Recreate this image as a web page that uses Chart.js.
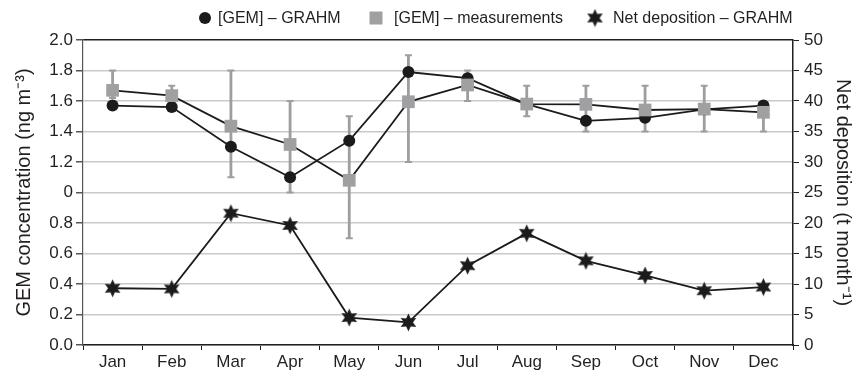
<!DOCTYPE html>
<html>
<head>
<meta charset="utf-8">
<script src="https://cdn.jsdelivr.net/npm/chart.js@4/dist/chart.umd.min.js"></script>
<style>
html,body{margin:0;padding:0;background:#fff;}
#wrap{width:861px;height:373px;}
</style>
</head>
<body>
<div id="wrap"><canvas id="c" width="861" height="373"></canvas></div>
<script>
// ---- data ----
const months = ['Jan','Feb','Mar','Apr','May','Jun','Jul','Aug','Sep','Oct','Nov','Dec'];
const gemGrahm = [1.57, 1.56, 1.30, 1.10, 1.34, 1.79, 1.75, 1.58, 1.47, 1.49, 1.545, 1.57];
const gemMeas = [1.67, 1.635, 1.435, 1.315, 1.08, 1.595, 1.705, 1.58, 1.578, 1.541, 1.547, 1.526];
const gemMeasHigh = [1.80, 1.70, 1.80, 1.60, 1.50, 1.90, 1.80, 1.70, 1.70, 1.70, 1.70, 1.58];
const gemMeasLow = [1.62, 1.60, 1.10, 1.00, 0.70, 1.20, 1.60, 1.50, 1.40, 1.40, 1.40, 1.40];
const netDep = [9.3, 9.2, 21.6, 19.6, 4.5, 3.7, 13.0, 18.3, 13.8, 11.4, 8.9, 9.5];
const leftTickLabels = ['0.0','0.2','0.4','0.6','0.8','0','1.2','1.4','1.6','1.8','2.0'];
const rightTickLabels = ['0','5','10','15','20','25','30','35','40','45','50'];
const legendLabels = ['[GEM] \u2013 GRAHM', '[GEM] \u2013 measurements', 'Net deposition \u2013 GRAHM'];

const FONT = "'Liberation Sans', Arial, Helvetica, sans-serif";
const TXT = '#231f20';

function starPath(ctx, cx, cy, ro, ri, n){
  ctx.beginPath();
  for(let k=0;k<2*n;k++){
    const r = k%2===0 ? ro : ri;
    const a = -Math.PI/2 + k*Math.PI/n;
    const px = cx + r*Math.cos(a), py = cy + r*Math.sin(a);
    if(k===0) ctx.moveTo(px,py); else ctx.lineTo(px,py);
  }
  ctx.closePath();
}
function makeStar(size){
  const cv = document.createElement('canvas');
  cv.width = size; cv.height = size;
  const g = cv.getContext('2d');
  g.fillStyle = '#1d1a1b';
  starPath(g, size/2, size/2, size/2-0.5, size/4.2, 6);
  g.fill();
  return cv;
}
const starImg = makeStar(19);

const errorBars = {
  id:'errorBars',
  beforeDatasetsDraw(chart){
    const {ctx, scales:{x, y}} = chart;
    ctx.save();
    ctx.strokeStyle = '#9e9ea0';
    gemMeasLow.forEach((lo,i)=>{
      const px = x.getPixelForValue(i);
      const yl = y.getPixelForValue(lo), yh = y.getPixelForValue(gemMeasHigh[i]);
      ctx.lineWidth = 2.8;
      ctx.beginPath();
      ctx.moveTo(px, yl); ctx.lineTo(px, yh);
      ctx.stroke();
      ctx.lineWidth = 2.2;
      ctx.beginPath();
      ctx.moveTo(px-3.5, yl); ctx.lineTo(px+3.5, yl);
      ctx.moveTo(px-3.5, yh); ctx.lineTo(px+3.5, yh);
      ctx.stroke();
    });
    ctx.restore();
  }
};

const customLegend = {
  id:'customLegend',
  afterDraw(chart){
    const ctx = chart.ctx;
    const cy = 18;
    const markerX = [205, 376, 595];
    const textX = [218, 394, 613];
    ctx.save();
    ctx.fillStyle = '#1d1a1b';
    ctx.beginPath(); ctx.arc(markerX[0], cy, 6, 0, Math.PI*2); ctx.fill();
    ctx.fillStyle = '#a0a0a2';
    ctx.fillRect(markerX[1]-6.5, cy-6.5, 13, 13);
    ctx.drawImage(starImg, markerX[2]-9.5, cy-9.5);
    ctx.fillStyle = TXT;
    ctx.font = '16px ' + FONT;
    ctx.textBaseline = 'middle';
    ctx.textAlign = 'left';
    legendLabels.forEach((t,i)=> ctx.fillText(t, textX[i], cy+1));
    ctx.restore();
  }
};

new Chart(document.getElementById('c'), {
  type:'line',
  data:{
    labels: months,
    datasets:[
      {label: legendLabels[1], data: gemMeas, yAxisID:'y', order:1,
       borderColor:'#1d1a1b', borderWidth:1.8, pointStyle:'rect', pointRadius:9,
       pointBackgroundColor:'#a0a0a2', pointBorderColor:'#a0a0a2', pointBorderWidth:0, tension:0},
      {label: legendLabels[0], data: gemGrahm, yAxisID:'y', order:2,
       borderColor:'#1d1a1b', borderWidth:1.8, pointStyle:'circle', pointRadius:6,
       pointBackgroundColor:'#1d1a1b', pointBorderColor:'#1d1a1b', pointBorderWidth:0, tension:0},
      {label: legendLabels[2], data: netDep, yAxisID:'y2', order:3,
       borderColor:'#1d1a1b', borderWidth:1.8, pointStyle: starImg, pointRadius:9,
       tension:0}
    ]
  },
  options:{
    responsive:false,
    animation:false,
    devicePixelRatio:1,
    layout:{padding:{top:40, left:0, right:0, bottom:0}},
    plugins:{legend:{display:false}, tooltip:{enabled:false}},
    scales:{
      x:{
        type:'category',
        offset:true,
        grid:{offset:true, drawOnChartArea:false, tickLength:5, color:'#231f20', lineWidth:1},
        border:{color:'#231f20', width:1.5},
        ticks:{color:TXT, font:{family:FONT, size:17}, padding:2, maxRotation:0},
        afterFit(s){ s.height = 28; }
      },
      y:{
        position:'left', min:0, max:2,
        ticks:{stepSize:0.2, color:TXT, font:{family:FONT, size:17}, padding:3,
               callback:(v,i)=>leftTickLabels[i]},
        grid:{color:(c)=> (c.tick && Math.abs(c.tick.value-2)<1e-6) ? '#231f20' : '#c9c9c9',
              lineWidth:1.5,
              tickColor:'#555', tickLength:7},
        border:{color:'#555', width:1.2},
        title:{display:true, text:'GEM concentration (ng m\u207B\u00B3)', color:TXT,
               font:{family:FONT, size:20}, padding:{top:12, bottom:0}},
        afterFit(s){ s.width = 83; }
      },
      y2:{
        position:'right', min:0, max:50,
        ticks:{stepSize:5, color:TXT, font:{family:FONT, size:17}, padding:5,
               callback:(v,i)=>rightTickLabels[i]},
        grid:{drawOnChartArea:false, tickLength:6, color:'#231f20'},
        border:{color:'#231f20', width:1.5},
        title:{display:true, text:'Net deposition (t month\u207B\u00B9)', color:TXT,
               font:{family:FONT, size:20}, padding:{top:6, bottom:0}},
        afterFit(s){ s.width = 68; }
      }
    }
  },
  plugins:[errorBars, customLegend]
});
</script>
</body>
</html>
